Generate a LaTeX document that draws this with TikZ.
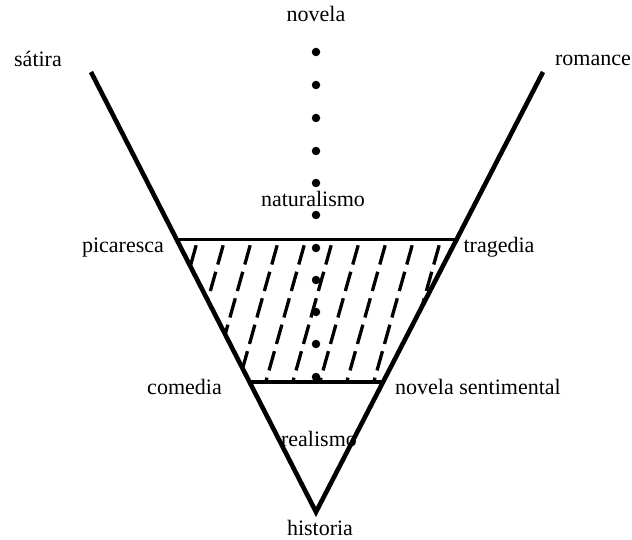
\documentclass[tikz,border=0pt]{standalone}
\usepackage{fontspec}
\setmainfont{Liberation Serif}
\begin{document}
\begin{tikzpicture}[x=1pt,y=-1pt,
  lbl/.style={anchor=base,inner sep=0pt,font=\fontsize{22}{26}\selectfont},
  edge/.style={line width=4.6pt,line join=miter},
  bar/.style={line width=3.4pt},
  hatch/.style={line width=3.3pt,dash pattern=on 20pt off 7.5pt,dash phase=21.5pt},
  dot/.style={circle,fill=black,inner sep=0pt,minimum size=8.5pt}]
\useasboundingbox (0,0) rectangle (632,540);
% main V
\coordinate (L) at (91,72);
\coordinate (A) at (316,512);
\coordinate (R) at (543,72);
\draw[edge] (L) -- (A) -- (R);
% band coordinates
\coordinate (TL) at (176.9,239.5);
\coordinate (TR) at (455.1,239.5);
\coordinate (BL) at (248.9,382);
\coordinate (BR) at (383.1,382);
% hatching
\begin{scope}
\clip (TL) -- (TR) -- (BR) -- (BL) -- cycle;
\foreach \k in {-3,...,6}{
  \draw[hatch] ({278.8+27*\k},239.5) -- ({278.8+27*\k-40},382);
}
\end{scope}
\draw[bar] (TL) -- (TR);
\draw[bar] (BL) -- (BR);
% dots
\foreach \y [count=\i] in {52,85,118,151,183,215,248,280,312,344,377}{
  \node[dot] (d\i) at (316,\y) {};
}
% labels
\node[lbl] (novela) at (316,22) {novela};
\node[lbl] (satira) at (38,67) {sátira};
\node[lbl] (romance) at (593,66) {romance};
\node[lbl] (naturalismo) at (313,207) {naturalismo};
\node[lbl] (picaresca) at (123,253) {picaresca};
\node[lbl] (tragedia) at (499,253) {tragedia};
\node[lbl] (comedia) at (184.5,394) {comedia};
\node[lbl] (sentimental) at (478,394) {novela sentimental};
\node[lbl] (realismo) at (319,446) {realismo};
\node[lbl] (historia) at (320,535) {historia};
\end{tikzpicture}
\end{document}
